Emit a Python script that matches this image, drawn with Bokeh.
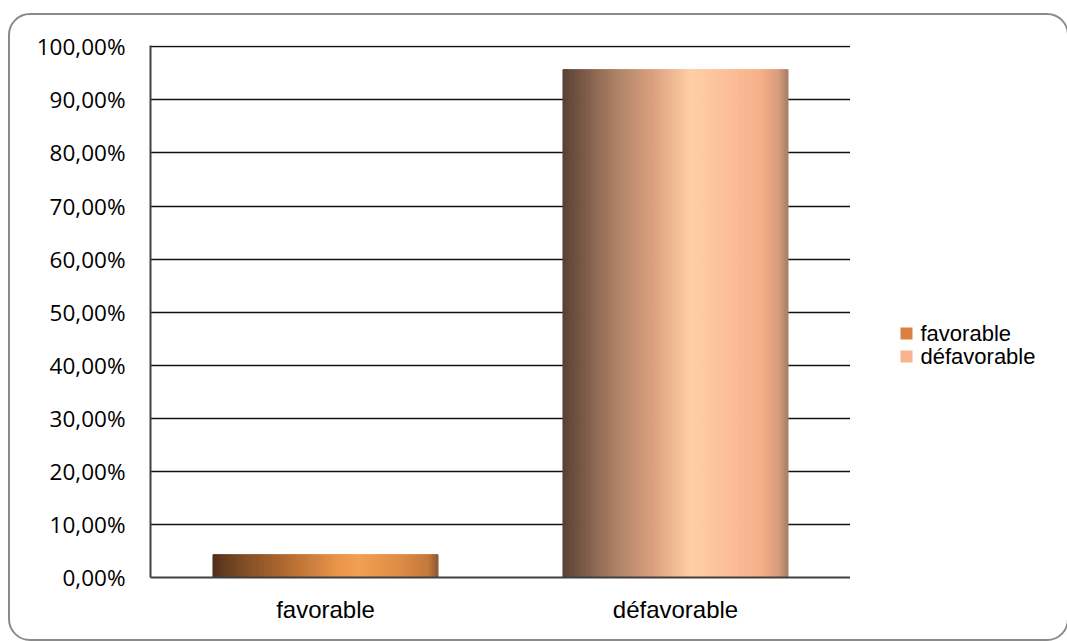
from bokeh.plotting import figure
from bokeh.models import Range1d, FixedTicker, CustomJSTickFormatter, ColumnDataSource
from bokeh.layouts import row
from bokeh.core.properties import value
from bokeh.embed import file_html
from bokeh.resources import INLINE
import numpy as np

# Data
categories = ["favorable", "défavorable"]
values = [4.30, 95.70]          # percent
base_colors = ["#d9813f", "#f9b48f"]

# Horizontal shading of each bar: (position across bar, colour)
shades = [
    [(0.0, "#50301a"), (0.12, "#7a4a24"), (0.35, "#b86e32"), (0.55, "#e8944a"),
     (0.65, "#f2a052"), (0.85, "#dc8a44"), (0.96, "#c47838"), (1.0, "#8a5a36")],
    [(0.0, "#584032"), (0.1, "#7e5c48"), (0.25, "#b08468"), (0.42, "#e0a484"),
     (0.57, "#ffcfa4"), (0.72, "#fcc09a"), (0.88, "#f6b08a"), (0.96, "#d89c7c"),
     (1.0, "#a88068")],
]

bar_width = 0.643
n_strips = 110

W, H = 1067, 641
MAIN_W = 850
TOP, BOTTOM = 45, 64
p = figure(width=MAIN_W, height=H, output_backend="svg", toolbar_location=None,
           x_range=Range1d(0, 2), y_range=Range1d(0, 100.25),
           min_border_left=150, min_border_right=0, min_border_top=TOP,
           min_border_bottom=BOTTOM, background_fill_color="white",
           border_fill_color=None, outline_line_color=None)


def hex_to_rgb(h):
    h = h.lstrip("#")
    return np.array([int(h[i:i + 2], 16) for i in (0, 2, 4)], dtype=float)


def interp_color(stops, t):
    pos = [s[0] for s in stops]
    cols = [hex_to_rgb(s[1]) for s in stops]
    rgb = [np.interp(t, pos, [c[k] for c in cols]) for k in range(3)]
    return "#%02x%02x%02x" % tuple(int(round(v)) for v in rgb)


lefts, rights, tops, bottoms, colors = [], [], [], [], []
for i, (val, stops) in enumerate(zip(values, shades)):
    x0 = i + 0.5 - bar_width / 2
    step = bar_width / n_strips
    for k in range(n_strips):
        t = (k + 0.5) / n_strips
        lefts.append(x0 + k * step)
        rights.append(x0 + (k + 1) * step)
        tops.append(val)
        bottoms.append(0)
        colors.append(interp_color(stops, t))

src = ColumnDataSource(dict(left=lefts, right=rights, top=tops, bottom=bottoms, color=colors))
p.quad(left="left", right="right", top="top", bottom="bottom", source=src,
       fill_color="color", line_color="color", line_width=1)

# Grid
p.xgrid.visible = False
p.ygrid.ticker = FixedTicker(ticks=list(range(10, 101, 10)))
p.ygrid.grid_line_color = "#111111"
p.ygrid.grid_line_width = 1.6
p.ygrid.level = "underlay"

# Y axis
p.yaxis.ticker = FixedTicker(ticks=list(range(0, 101, 10)))
p.yaxis.formatter = CustomJSTickFormatter(
    code="return tick.toFixed(2).replace('.', ',') + '%';")
p.yaxis.major_label_text_font = "Open Sans"
p.yaxis.major_label_text_font_size = "22.5px"
p.yaxis.major_label_text_color = "#000000"
p.yaxis.major_label_standoff = 25
p.yaxis.major_tick_out = 0
p.yaxis.major_tick_in = 0
p.yaxis.minor_tick_out = 0
p.yaxis.minor_tick_in = 0
p.yaxis.axis_line_color = "#404040"
p.yaxis.axis_line_width = 2

# X axis
p.xaxis.ticker = FixedTicker(ticks=[0.5, 1.5])
p.xaxis.major_label_overrides = {0.5: categories[0], 1.5: categories[1]}
p.xaxis.major_label_text_font = "Liberation Sans"
p.xaxis.major_label_text_font_size = "24px"
p.xaxis.major_label_text_color = "#000000"
p.xaxis.major_label_standoff = 18
p.xaxis.major_tick_out = 0
p.xaxis.major_tick_in = 0
p.xaxis.minor_tick_out = 0
p.xaxis.minor_tick_in = 0
p.xaxis.axis_line_color = "#404040"
p.xaxis.axis_line_width = 2

# Legend panel: a pixel-scaled figure beside the chart, its frame aligned
# with the chart's frame so that its coordinates are page pixels
LEG_W = W - MAIN_W
FRAME_H = H - TOP - BOTTOM
leg = figure(frame_width=LEG_W, frame_height=FRAME_H, output_backend="svg",
             toolbar_location=None, title=None,
             x_range=Range1d(0, LEG_W), y_range=Range1d(H - BOTTOM, TOP),
             x_axis_location=None, y_axis_location=None,
             min_border=0, background_fill_color="white", border_fill_color=None,
             outline_line_color=None)
leg.grid.visible = False
row_y = [333, 356]
leg.rect(x=[56, 56], y=row_y, width=12, height=12, fill_color=base_colors,
         line_color=None)
leg.text(x=[70, 70], y=row_y, text=categories, text_font=value("Liberation Sans"),
         text_font_size="22px", text_baseline="middle", text_align="left",
         text_color="#000000")

layout = row(p, leg, spacing=0)

html = file_html(layout, INLINE)
frame_css = """
<style>
body { margin: 0; }
.chart-frame { position: absolute; left: 8px; top: 13px; width: 1061px; height: 628px;
  box-sizing: border-box; border: 2px solid #8a8a8a; border-radius: 22px;
  pointer-events: none; z-index: 10; }
</style>
"""
html = html.replace("</head>", frame_css + "</head>")
html = html.replace("</body>", '<div class="chart-frame"></div></body>')
open("out.html", "w").write(html)
